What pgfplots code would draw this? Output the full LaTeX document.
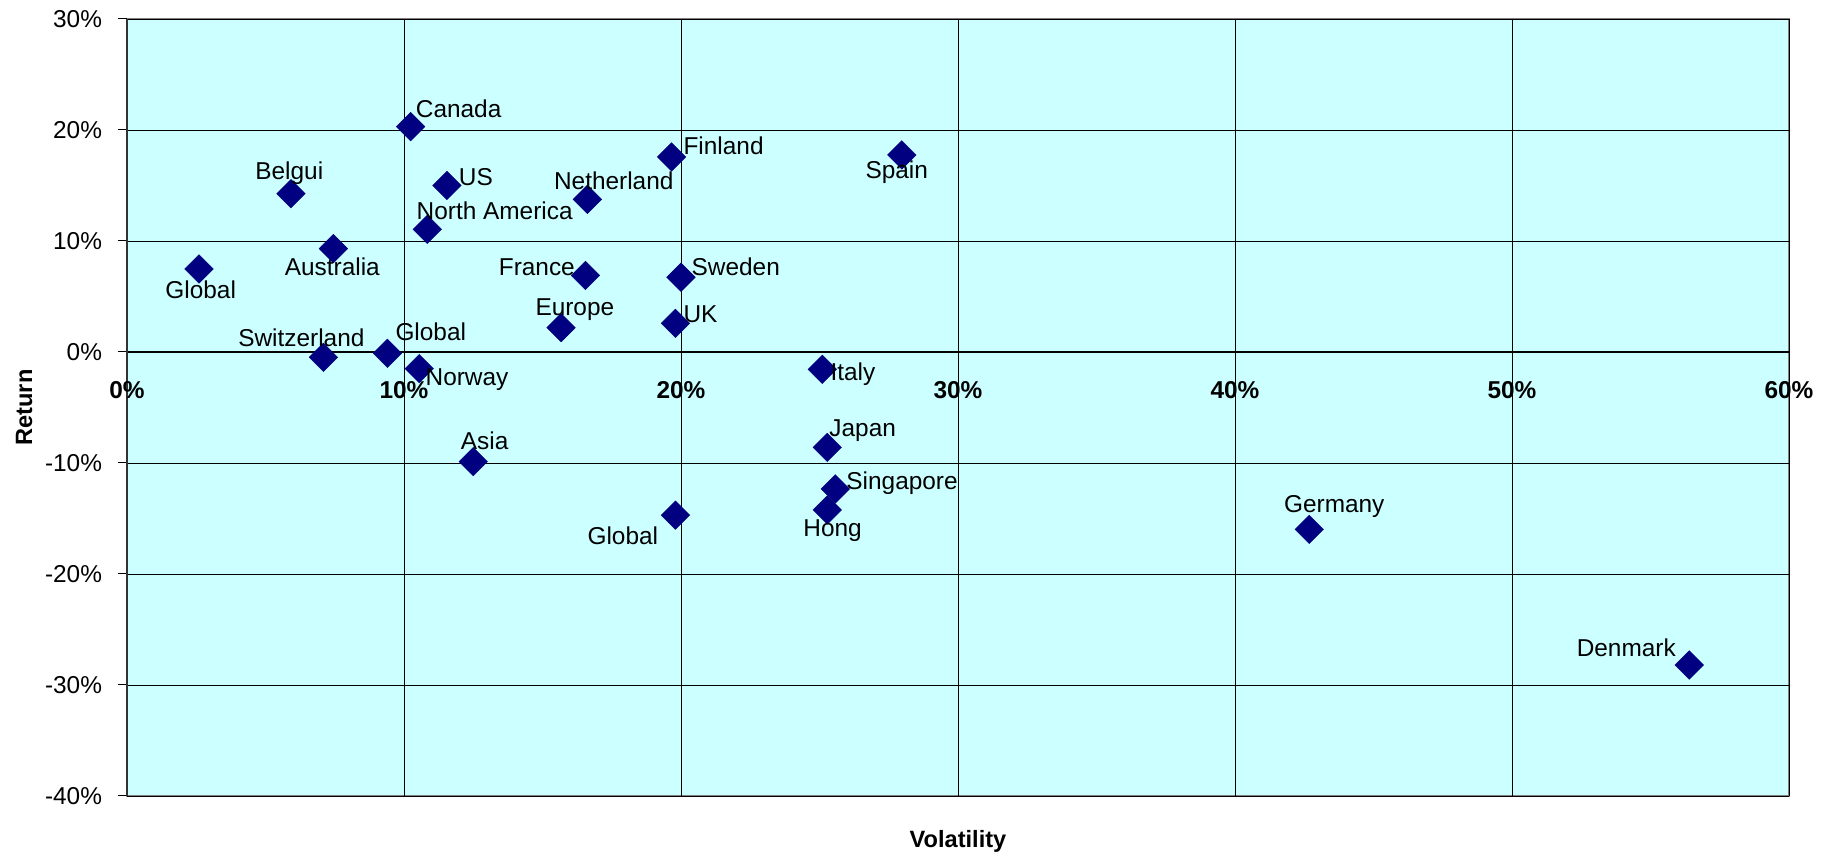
\documentclass[border=0pt]{standalone}
\usepackage{fontspec}
\setmainfont{Liberation Sans}
\usepackage{pgfplots}
\usepackage{pgfplotstable}
\pgfplotsset{compat=1.18}

\definecolor{plotbg}{HTML}{CCFFFF}
\definecolor{navymark}{HTML}{000080}

% x = volatility (%), y = return (%), label offsets in pt
\pgfplotstableread{
x      y       label            xs     ys
2.6    7.48    Global           0.85   -14.8
5.92   14.26   Belgui           -0.85  7.3
7.45   9.31    Australia        -0.5   -13.2
10.24  20.3    Canada           24     4.5
11.55  15.0    US               14.5   0.1
10.84  11.05   {North America}  33.7   5.1
7.09   -0.48   Switzerland      -11    5.3
9.4    -0.12   Global           21.7   6.3
10.55  -1.5    Norway           23.9   -8.2
12.5   -9.88   Asia             5.7    6.3
15.67  2.19    Europe           6.9    6.2
16.55  6.9     France           -24.3  0.1
16.62  13.75   Netherland       13.2   5.1
19.66  17.57   Finland          26     1.0
20.0   6.73    Sweden           27.4   1.1
19.8   2.58    UK               12.5   0.5
19.8   -14.7   Global           -26.3  -14.9
27.97  17.75   Spain            -2.5   -12
25.1   -1.56   Italy            15.3   -5.5
25.28  -8.59   Japan            17.7   5.3
25.57  -12.34  Singapore        33.4   -0.2
25.28  -14.23  Hong             2.7    -13.5
42.68  -15.98  Germany          12.5   8.3
56.4   -28.2   Denmark          -31.5  4.3
}\riskreturn

\begin{document}
\begin{tikzpicture}
\begin{axis}[
  scale only axis,
  width=831pt, height=388.5pt,
  xmin=0, xmax=60, ymin=-40, ymax=30,
  xtick={0,10,...,60}, ytick={-40,-30,...,30},
  axis x line=middle, axis y line=left,
  hide obscured x ticks=false, hide obscured y ticks=false,
  x axis line style={black, line width=0.5pt, -},
  y axis line style={black!80, line width=0.7pt, -},
  axis background/.style={fill=plotbg, draw=gray, line width=0.7pt},
  grid=major,
  major grid style={black, line width=0.45pt},
  tick align=outside,
  major tick length=4.3pt,
  tick style={black, line width=0.5pt},
  /pgf/number format/assume math mode=true,
  xticklabel={\pgfmathprintnumber{\tick}\%},
  yticklabel={\pgfmathprintnumber{\tick}\%},
  xticklabel style={font=\fontsize{12.2}{14.5}\selectfont\bfseries, anchor=north, inner sep=0pt, yshift=-10.2pt},
  yticklabel style={font=\fontsize{12.2}{14.5}\selectfont, anchor=east, inner sep=0pt, xshift=-8pt},
  every axis x label/.style={at={(axis description cs:0.5,0)}, anchor=north, yshift=-17pt, inner sep=0pt},
  every axis y label/.style={at={(axis description cs:-0.0571,0.5)}, rotate=90, anchor=base, inner sep=0pt},
  xlabel={Volatility}, ylabel={Return},
  label style={font=\fontsize{11.8}{14}\selectfont\bfseries},
  clip=false,
]
\addplot[
  only marks,
  mark=square*,
  mark size=5.05pt,
  mark options={rotate=45, fill=navymark, draw=navymark, line width=0.2pt},
  nodes near coords,
  point meta=explicit symbolic,
  visualization depends on={\thisrow{xs}\as\myxs},
  visualization depends on={\thisrow{ys}\as\myys},
  every node near coord/.append style={font=\fontsize{12.2}{14.5}\selectfont, text=black, anchor=base, inner sep=0pt, xshift=\myxs pt, yshift=\myys pt},
] table[x=x, y=y, meta=label] {\riskreturn};
\coordinate (bl) at (rel axis cs:0,0);
\coordinate (tr) at (rel axis cs:1,1);
\end{axis}
\path ([shift={(-63.5pt,-30.5pt)}]bl) rectangle ([shift={(23.5pt,9.5pt)}]tr);
\end{tikzpicture}
\end{document}
